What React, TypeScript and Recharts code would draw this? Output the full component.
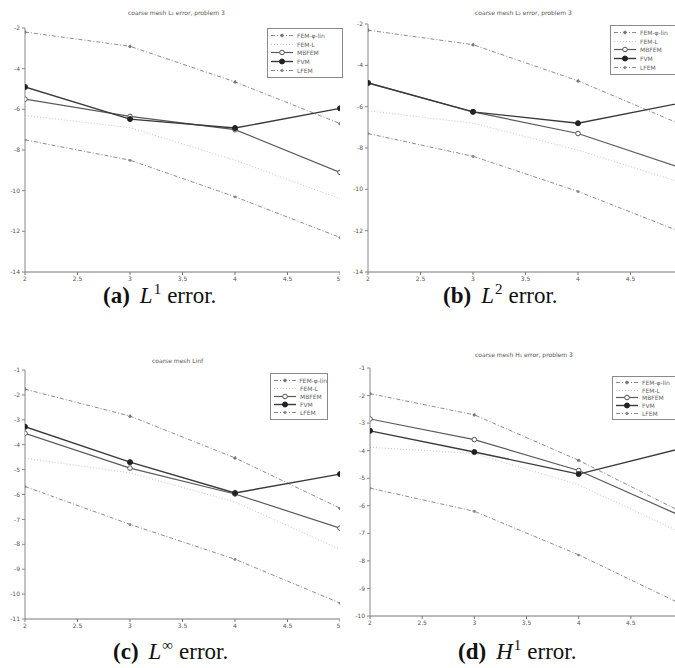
import React from 'react';
import { LineChart, Line, XAxis, YAxis } from 'recharts';

// ---- data ----
const xValues = [2, 3, 4, 5];
const xTicks = [2, 2.5, 3, 3.5, 4, 4.5, 5];
const xTicksCropped = [2, 2.5, 3, 3.5, 4, 4.5];
const seriesNames = ['FEM-φ-lin', 'FEM-L', 'MBFEM', 'FVM', 'LFEM'];

const yTicksAB = [-14, -12, -10, -8, -6, -4, -2];
const yTicksC = [-11, -10, -9, -8, -7, -6, -5, -4, -3, -2, -1];
const yTicksD = [-10, -9, -8, -7, -6, -5, -4, -3, -2, -1];

// (a) L1 error
const femPhiA = [-2.2, -2.9, -4.65, -6.7];
const femLA = [-6.3, -6.9, -8.5, -10.4];
const mbfemA = [-5.5, -6.35, -7.0, -9.1];
const fvmA = [-4.9, -6.48, -6.92, -5.95];
const lfemA = [-7.5, -8.5, -10.3, -12.3];

// (b) L2 error
const femPhiB = [-2.3, -3.0, -4.75, -6.9];
const femLB = [-6.2, -6.8, -8.1, -9.7];
const mbfemB = [-4.85, -6.25, -7.3, -9.0];
const fvmB = [-4.85, -6.25, -6.8, -5.8];
const lfemB = [-7.3, -8.4, -10.1, -12.1];

// (c) Linf error
const femPhiC = [-1.77, -2.85, -4.53, -6.55];
const femLC = [-4.54, -5.13, -6.3, -8.2];
const mbfemC = [-3.54, -4.94, -5.98, -7.35];
const fvmC = [-3.28, -4.7, -5.94, -5.18];
const lfemC = [-5.68, -7.2, -8.6, -10.36];

// (d) H1 error
const femPhiD = [-1.93, -2.7, -4.35, -6.25];
const femLD = [-3.88, -4.1, -5.24, -7.0];
const mbfemD = [-2.85, -3.6, -4.72, -6.4];
const fvmD = [-3.28, -4.05, -4.85, -3.9];
const lfemD = [-5.36, -6.2, -7.78, -9.6];

const buildRows = (p: number[], l: number[], m: number[], f: number[], e: number[]) =>
  xValues.map((x, i) => ({ x, femPhi: p[i], femL: l[i], mbfem: m[i], fvm: f[i], lfem: e[i] }));

const rowsA = buildRows(femPhiA, femLA, mbfemA, fvmA, lfemA);
const rowsB = buildRows(femPhiB, femLB, mbfemB, fvmB, lfemB);
const rowsC = buildRows(femPhiC, femLC, mbfemC, fvmC, lfemC);
const rowsD = buildRows(femPhiD, femLD, mbfemD, fvmD, lfemD);

const seriesKeys = ['femPhi', 'femL', 'mbfem', 'fvm', 'lfem'];

const seriesStyle: Record<string, any> = {
  femPhi: { stroke: '#8c8c8c', width: 1, dash: '4 2 1 2', dot: { r: 1.4, fill: '#777', stroke: '#777', strokeWidth: 0.8 } },
  femL: { stroke: '#c4c4c4', width: 1, dash: '1 2', dot: false },
  mbfem: { stroke: '#5a5a5a', width: 1.2, dash: undefined, dot: { r: 2.3, fill: '#fff', stroke: '#555', strokeWidth: 1 } },
  fvm: { stroke: '#3a3a3a', width: 1.4, dash: undefined, dot: { r: 2.5, fill: '#222', stroke: '#222', strokeWidth: 1 } },
  lfem: { stroke: '#8c8c8c', width: 1, dash: '4 2 1 2', dot: { r: 1.2, fill: '#888', stroke: '#888', strokeWidth: 0.8 } },
};

const tickStyle = { fontSize: 6, fill: '#555', fontFamily: 'DejaVu Sans' };

type PanelProps = {
  rows: any[];
  left: number;
  top: number;
  width: number;
  height: number;
  marginTop: number;
  yDomain: [number, number];
  yTicks: number[];
  xTickList: number[];
};

function Panel({ rows, left, top, width, height, marginTop, yDomain, yTicks, xTickList }: PanelProps) {
  return (
    <div style={{ position: 'absolute', left, top }}>
      <LineChart width={width} height={height} data={rows} margin={{ top: marginTop, right: 0, bottom: 0, left: 0 }}>
        <XAxis
          dataKey="x"
          type="number"
          domain={[2, 5]}
          ticks={xTickList}
          tick={tickStyle}
          tickSize={3}
          height={12}
          stroke="#777"
          allowDataOverflow
        />
        <YAxis
          type="number"
          domain={yDomain}
          ticks={yTicks}
          tick={tickStyle}
          tickSize={3}
          width={25}
          stroke="#888"
          allowDataOverflow
        />
        {seriesKeys.map((k) => {
          const s = seriesStyle[k];
          return (
            <Line
              key={k}
              dataKey={k}
              type="linear"
              stroke={s.stroke}
              strokeWidth={s.width}
              strokeDasharray={s.dash}
              dot={s.dot}
              activeDot={false}
              isAnimationActive={false}
            />
          );
        })}
      </LineChart>
    </div>
  );
}

function LegendBox({ left, top, width, height }: { left: number; top: number; width: number; height: number }) {
  return (
    <div
      style={{
        position: 'absolute',
        left,
        top,
        width,
        height,
        border: '1px solid #8a8a8a',
        background: '#fff',
        boxSizing: 'border-box',
        paddingTop: 2,
        fontFamily: 'DejaVu Sans',
        fontSize: 6,
        color: '#666',
      }}
    >
      {seriesKeys.map((k, i) => {
        const s = seriesStyle[k];
        return (
          <div key={k} style={{ display: 'flex', alignItems: 'center', height: (height - 6) / 5 }}>
            <svg width={24} height={7} style={{ marginLeft: 2, marginRight: 3 }}>
              <line x1={1} y1={3.5} x2={23} y2={3.5} stroke={s.stroke} strokeWidth={s.width} strokeDasharray={s.dash} />
              {s.dot ? (
                <circle cx={12} cy={3.5} r={s.dot.r} fill={s.dot.fill} stroke={s.dot.stroke} strokeWidth={s.dot.strokeWidth} />
              ) : null}
            </svg>
            <span style={{ whiteSpace: 'nowrap' }}>{seriesNames[i]}</span>
          </div>
        );
      })}
    </div>
  );
}

const titleStyle: React.CSSProperties = {
  position: 'absolute',
  fontFamily: 'DejaVu Sans',
  fontSize: 6,
  color: '#555',
  whiteSpace: 'nowrap',
};

const captionStyle: React.CSSProperties = {
  position: 'absolute',
  fontFamily: 'Liberation Serif',
  fontSize: 23,
  lineHeight: '24px',
  color: '#111',
  whiteSpace: 'nowrap',
};

function Caption({ label, letter, sup, left, top }: { label: string; letter: string; sup: string; left: number; top: number }) {
  return (
    <div style={{ ...captionStyle, left, top }}>
      <b>({label})</b>
      <i style={{ marginLeft: 10 }}>{letter}</i>
      <span style={{ fontSize: 15, position: 'relative', top: -9, marginLeft: 1 }}>{sup}</span>
      <span style={{ marginLeft: 6 }}>error.</span>
    </div>
  );
}

export default function App() {
  return (
    <div
      style={{
        position: 'absolute',
        left: 0,
        top: 0,
        width: 675,
        height: 668,
        overflow: 'hidden',
        background: '#fff',
      }}
    >
      <div style={{ ...titleStyle, left: 128, top: 9 }}>coarse mesh L₁ error, problem 3</div>
      <div style={{ ...titleStyle, left: 475, top: 9 }}>coarse mesh L₂ error, problem 3</div>
      <div style={{ ...titleStyle, left: 152, top: 357 }}>coarse mesh Linf</div>
      <div style={{ ...titleStyle, left: 475, top: 351 }}>coarse mesh H₁ error, problem 3</div>

      <Panel rows={rowsA} left={0} top={0} width={340} height={284} marginTop={28} yDomain={[-14, -2]} yTicks={yTicksAB} xTickList={xTicks} />
      <Panel rows={rowsB} left={343} top={0} width={340} height={284} marginTop={24} yDomain={[-14, -2]} yTicks={yTicksAB} xTickList={xTicksCropped} />
      <Panel rows={rowsC} left={0} top={340} width={340} height={291} marginTop={30} yDomain={[-11, -1]} yTicks={yTicksC} xTickList={xTicks} />
      <Panel rows={rowsD} left={345} top={340} width={338} height={288} marginTop={28} yDomain={[-10, -1]} yTicks={yTicksD} xTickList={xTicksCropped} />

      <LegendBox left={267} top={28} width={76} height={50} />
      <LegendBox left={610} top={25} width={70} height={50} />
      <LegendBox left={270} top={373} width={58} height={47} />
      <LegendBox left={612} top={376} width={68} height={44} />

      <Caption label="a" letter="L" sup="1" left={103} top={284} />
      <Caption label="b" letter="L" sup="2" left={443} top={284} />
      <Caption label="c" letter="L" sup="∞" left={113} top={640} />
      <Caption label="d" letter="H" sup="1" left={458} top={640} />
    </div>
  );
}
